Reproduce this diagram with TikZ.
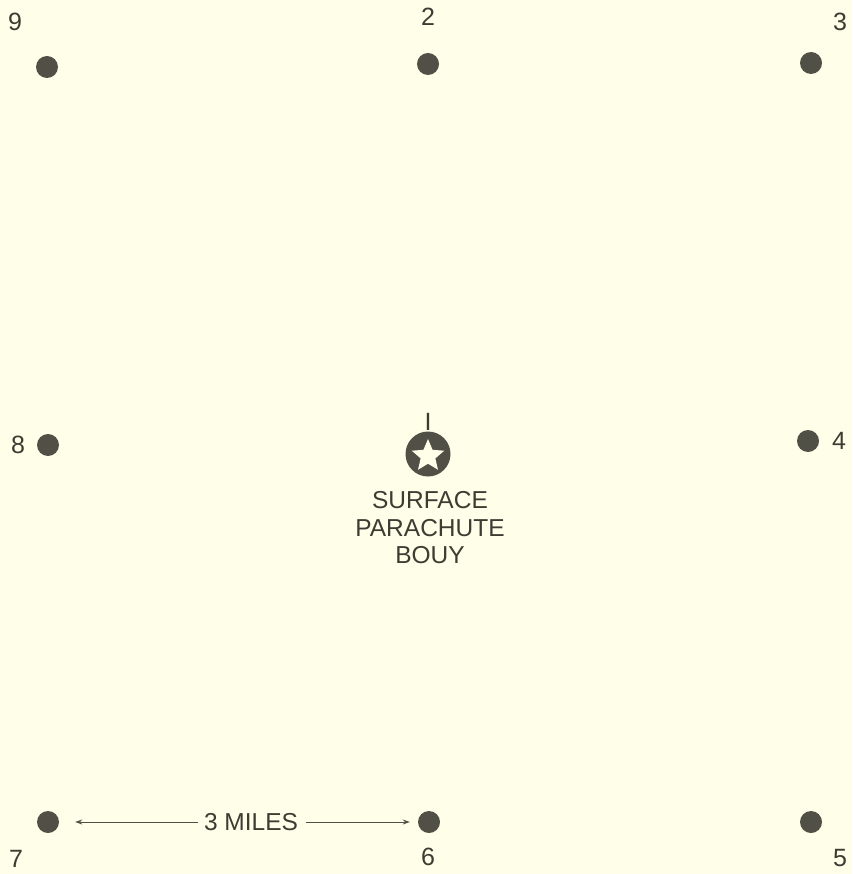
\documentclass[tikz,border=0pt]{standalone}
\usepackage{fontspec}
\setmainfont{Liberation Sans}
\usetikzlibrary{shapes.geometric,arrows.meta}
\definecolor{bg}{HTML}{FEFEE9}
\definecolor{ink}{HTML}{505046}
\definecolor{txt}{HTML}{3C3C32}
\begin{document}
\begin{tikzpicture}[x=1pt,y=-1pt,
  dot/.style={circle,fill=ink,minimum size=22pt,inner sep=0pt},
  lbl/.style={text=txt,font=\fontsize{25}{28}\selectfont,inner sep=0pt},
  whitestar/.style={star,star points=5,star point ratio=2.2,fill=bg,minimum size=34pt,inner sep=0pt},
  arr/.style={ink,line width=0.9pt,-{Stealth[length=7pt,width=5pt]}}]
\fill[bg] (0,0) rectangle (852,874);
\useasboundingbox (0,0) rectangle (852,874);
\node[dot] (d9) at (47,67) {};
\node[dot] (d2) at (428,64) {};
\node[dot] (d3) at (811,63) {};
\node[dot] (d8) at (48,445) {};
\node[dot] (d4) at (808,441) {};
\node[dot] (d7) at (48,822) {};
\node[dot] (d6) at (429,822) {};
\node[dot] (d5) at (811,822) {};
\node[circle,fill=ink,minimum size=45pt,inner sep=0pt] (d1) at (428,454) {};
\node[whitestar] (s1) at (428,456) {};
\node[lbl] (l9) at (15,22) {9};
\node[lbl] (l2) at (428,17) {2};
\node[lbl] (l3) at (840,22) {3};
\node[lbl] (l8) at (18,445) {8};
\node[lbl] (l1) at (428,422) {I};
\node[lbl] (l4) at (839,441) {4};
\node[lbl] (l7) at (16,859) {7};
\node[lbl] (l6) at (428,857) {6};
\node[lbl] (l5) at (840,858) {5};
\node[lbl,align=center,font=\fontsize{24.5}{27.5}\selectfont] (t) at (430,528) {SURFACE\\PARACHUTE\\BOUY};
\node[lbl,font=\fontsize{24.5}{26}\selectfont] (m) at (251,822) {3 MILES};
\draw[arr] ([xshift=-6pt]m.west) -- ([xshift=16pt]d7.east);
\draw[arr] ([xshift=8pt]m.east) -- ([xshift=-8pt]d6.west);
\end{tikzpicture}
\end{document}
